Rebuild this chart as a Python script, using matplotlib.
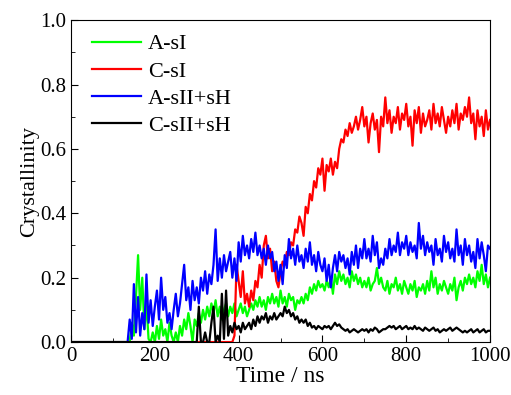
#crystallinity vs time for the four hydrate systems
import numpy as np
import matplotlib
matplotlib.use('Agg')
import matplotlib.pyplot as plt
from matplotlib.ticker import MultipleLocator

plt.rcParams['font.family'] = ['Liberation Serif', 'DejaVu Serif']

# time grid (ns), one sample every 5 ns
time_ns = np.arange(0, 1001, 5)

# A-sI (green)
a_si = [0, 0, 0, 0, 0, 0, 0, 0, 0, 0,
        0, 0, 0, 0, 0, 0, 0, 0, 0, 0,
        0, 0, 0, 0, 0, 0, 0, 0, 0, 0.06,
        0.02, 0.14, 0.27, 0.10, 0.20, 0.04, 0.12, 0.01, 0.0, 0.03,
        0.0, 0.05, 0.01, 0.07, 0.02, 0.04, 0.0, 0.06, 0.02, 0.0,
        0.03, 0.0, 0.05, 0.02, 0.07, 0.04, 0.09, 0.05, 0.0, 0.07,
        0.05, 0.09, 0.06, 0.10, 0.07, 0.11, 0.08, 0.12, 0.09, 0.13,
        0.08, 0.11, 0.07, 0.10, 0.12, 0.08, 0.11, 0.09, 0.12, 0.08,
        0.10, 0.12, 0.09, 0.11, 0.08, 0.10, 0.12, 0.10, 0.13, 0.11,
        0.14, 0.11, 0.13, 0.10, 0.14, 0.12, 0.15, 0.12, 0.14, 0.11,
        0.16, 0.12, 0.14, 0.11, 0.15, 0.13, 0.14, 0.10, 0.13, 0.12,
        0.14, 0.12, 0.15, 0.13, 0.17, 0.15, 0.18, 0.16, 0.19, 0.17,
        0.18, 0.16, 0.19, 0.17, 0.20, 0.15, 0.21, 0.18, 0.22, 0.19,
        0.21, 0.18, 0.20, 0.17, 0.22, 0.19, 0.21, 0.18, 0.20, 0.17,
        0.19, 0.17, 0.20, 0.16, 0.18, 0.19, 0.23, 0.18, 0.20, 0.17,
        0.16, 0.19, 0.15, 0.18, 0.17, 0.20, 0.16, 0.18, 0.15, 0.19,
        0.17, 0.15, 0.18, 0.16, 0.19, 0.14, 0.17, 0.16, 0.18, 0.15,
        0.19, 0.16, 0.22, 0.17, 0.20, 0.15, 0.18, 0.16, 0.19, 0.17,
        0.15, 0.18, 0.16, 0.20, 0.13, 0.17, 0.19, 0.16, 0.20, 0.18,
        0.21, 0.18, 0.20, 0.17, 0.22, 0.19, 0.24, 0.18, 0.21, 0.17,
        0.20]

# C-sI (red)
c_si = [0, 0, 0, 0, 0, 0, 0, 0, 0, 0,
        0, 0, 0, 0, 0, 0, 0, 0, 0, 0,
        0, 0, 0, 0, 0, 0, 0, 0, 0, 0,
        0, 0, 0, 0, 0, 0, 0, 0, 0, 0,
        0, 0, 0, 0, 0, 0, 0, 0, 0, 0,
        0, 0, 0, 0, 0, 0, 0, 0, 0, 0,
        0, 0, 0, 0, 0, 0, 0, 0, 0, 0,
        0, 0, 0, 0, 0, 0, 0, 0, 0.02, 0.24,
        0.19, 0.14, 0.22, 0.12, 0.15, 0.11, 0.16, 0.13, 0.19, 0.17,
        0.24, 0.20, 0.30, 0.33, 0.26, 0.29, 0.22, 0.25, 0.19, 0.17,
        0.22, 0.25, 0.24, 0.28, 0.27, 0.31, 0.30, 0.35, 0.34, 0.39,
        0.37, 0.33, 0.42, 0.40, 0.46, 0.44, 0.50, 0.48, 0.54, 0.52,
        0.57, 0.47, 0.55, 0.53, 0.57, 0.52, 0.56, 0.54, 0.60, 0.63,
        0.62, 0.66, 0.64, 0.68, 0.65, 0.67, 0.70, 0.66, 0.69, 0.73,
        0.67, 0.70, 0.62, 0.68, 0.71, 0.66, 0.69, 0.59, 0.70, 0.67,
        0.76, 0.68, 0.72, 0.65, 0.70, 0.68, 0.73, 0.66, 0.71, 0.69,
        0.74, 0.67, 0.70, 0.61, 0.72, 0.68, 0.73, 0.65, 0.71, 0.67,
        0.69, 0.72, 0.66, 0.74, 0.68, 0.71, 0.67, 0.73, 0.69, 0.65,
        0.70, 0.67, 0.72, 0.68, 0.74, 0.66, 0.71, 0.69, 0.73, 0.70,
        0.76, 0.68, 0.71, 0.63, 0.72, 0.67, 0.70, 0.64, 0.72, 0.66,
        0.69]

# A-sII+sH (blue)
a_sii = [0, 0, 0, 0, 0, 0, 0, 0, 0, 0,
         0, 0, 0, 0, 0, 0, 0, 0, 0, 0,
         0, 0, 0, 0, 0, 0, 0, 0, 0.07, 0.01,
         0.18, 0.03, 0.14, 0.02, 0.09, 0.04, 0.21, 0.06, 0.13, 0.05,
         0.11, 0.16, 0.07, 0.20, 0.10, 0.14, 0.06, 0.09, 0.04, 0.10,
         0.15, 0.08, 0.12, 0.18, 0.24, 0.13, 0.17, 0.10, 0.19, 0.13,
         0.17, 0.12, 0.20, 0.16, 0.22, 0.15, 0.21, 0.18, 0.24, 0.35,
         0.19, 0.26, 0.20, 0.27, 0.22, 0.25, 0.28, 0.20, 0.26, 0.19,
         0.31, 0.25, 0.33, 0.27, 0.30, 0.26, 0.32, 0.28, 0.34, 0.27,
         0.30, 0.26, 0.29, 0.24, 0.30, 0.26, 0.28, 0.22, 0.25, 0.19,
         0.24, 0.18, 0.27, 0.23, 0.32, 0.26, 0.29, 0.24, 0.30, 0.25,
         0.27, 0.23, 0.29, 0.25, 0.31, 0.24, 0.27, 0.22, 0.28, 0.24,
         0.22, 0.26, 0.19, 0.24, 0.17, 0.23, 0.27, 0.22, 0.28, 0.25,
         0.27, 0.23, 0.26, 0.21, 0.28, 0.24, 0.30, 0.23, 0.29, 0.26,
         0.32, 0.26, 0.29, 0.25, 0.33, 0.27, 0.31, 0.23, 0.26, 0.24,
         0.29, 0.26, 0.32, 0.27, 0.30, 0.28, 0.34, 0.27, 0.31, 0.29,
         0.33, 0.27, 0.31, 0.28, 0.30, 0.26, 0.37, 0.29, 0.33, 0.27,
         0.31, 0.28, 0.30, 0.24, 0.32, 0.27, 0.29, 0.25, 0.33, 0.28,
         0.31, 0.26, 0.29, 0.25, 0.35, 0.27, 0.30, 0.24, 0.32, 0.27,
         0.30, 0.25, 0.28, 0.23, 0.32, 0.26, 0.31, 0.27, 0.22, 0.30,
         0.29]

# C-sII+sH (black)
c_sii = [0, 0, 0, 0, 0, 0, 0, 0, 0, 0,
         0, 0, 0, 0, 0, 0, 0, 0, 0, 0,
         0, 0, 0, 0, 0, 0, 0, 0, 0, 0,
         0, 0, 0, 0, 0, 0, 0, 0, 0, 0,
         0, 0, 0, 0, 0, 0, 0, 0, 0, 0,
         0, 0, 0, 0, 0, 0, 0, 0, 0, 0,
         0, 0.11, 0, 0, 0.03, 0, 0, 0.06, 0.11, 0.0,
         0.02, 0.0, 0.15, 0.01, 0.16, 0.02, 0.05, 0.03, 0.06, 0.04,
         0.05, 0.03, 0.06, 0.04, 0.05, 0.06, 0.04, 0.07, 0.05, 0.08,
         0.06, 0.08, 0.07, 0.09, 0.06, 0.08, 0.07, 0.09, 0.07, 0.08,
         0.09, 0.08, 0.11, 0.09, 0.10, 0.08, 0.09, 0.07, 0.08, 0.06,
         0.07, 0.06, 0.07, 0.05, 0.06, 0.045, 0.05, 0.04, 0.05, 0.045,
         0.04, 0.05, 0.045, 0.05, 0.04, 0.05, 0.06, 0.05, 0.055, 0.045,
         0.04, 0.035, 0.04, 0.03, 0.035, 0.04, 0.035, 0.03, 0.035, 0.04,
         0.035, 0.04, 0.03, 0.04, 0.035, 0.045, 0.04, 0.03, 0.035, 0.04,
         0.04, 0.045, 0.05, 0.045, 0.05, 0.04, 0.045, 0.05, 0.04, 0.045,
         0.05, 0.04, 0.045, 0.04, 0.05, 0.04, 0.045, 0.04, 0.035, 0.045,
         0.04, 0.035, 0.04, 0.045, 0.035, 0.04, 0.03, 0.035, 0.04, 0.035,
         0.04, 0.045, 0.035, 0.04, 0.045, 0.04, 0.035, 0.03, 0.035, 0.03,
         0.035, 0.04, 0.03, 0.035, 0.04, 0.03, 0.035, 0.04, 0.03, 0.035,
         0.035]

labels = ['A-sI', 'C-sI', 'A-sII+sH', 'C-sII+sH']
colors = ['#00ff00', '#ff0000', '#0000ff', '#000000']

fig = plt.figure(figsize=(5.11, 3.95), dpi=100)
ax = fig.add_axes([0.139, 0.134, 0.820, 0.815])

for y, lab, col in zip([a_si, c_si, a_sii, c_sii], labels, colors):
    ax.plot(time_ns, y, color=col, lw=1.6, label=lab)

ax.set_xlim(0, 1000)
ax.set_ylim(0, 1.0)
ax.xaxis.set_major_locator(MultipleLocator(200))
ax.xaxis.set_minor_locator(MultipleLocator(100))
ax.yaxis.set_major_locator(MultipleLocator(0.2))
ax.yaxis.set_minor_locator(MultipleLocator(0.1))
ax.tick_params(which='both', direction='in', labelsize=15)
ax.tick_params(which='major', length=5)
ax.tick_params(which='minor', length=3)
ax.set_xlabel('Time / ns', fontsize=17, labelpad=0)
ax.set_ylabel('Crystallinity', fontsize=16, labelpad=1)

ax.legend(loc='upper left', bbox_to_anchor=(0.03, 0.985), frameon=False,
          fontsize=16, handlelength=2.2, labelspacing=0.3,
          borderaxespad=0.0, handletextpad=0.3)

fig.savefig('out.png', dpi=100)
